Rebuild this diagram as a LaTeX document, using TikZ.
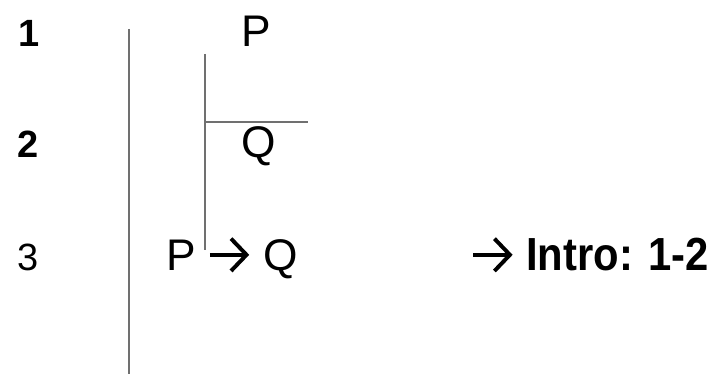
\documentclass[tikz,border=0pt]{standalone}
\usepackage{fontspec}
\setmainfont{Liberation Sans}
\newfontfamily\rulefont[FakeStretch=0.9]{Liberation Sans}
\usepackage{tikz}
\usetikzlibrary{arrows.meta,calc}
\definecolor{bargray}{RGB}{112,112,112}
\tikzset{
linenum/.style={anchor=base, inner sep=0pt, font=\fontsize{27}{32}\selectfont},
fmla/.style={anchor=base, inner sep=0pt, font=\fontsize{31.5}{36}\selectfont},
rulelabel/.style={anchor=base west, inner sep=0pt, font=\fontsize{33}{38}\rulefont\bfseries},
proofbar/.style={draw=bargray, line width=1.7pt}
}
% chevron arrow as used in the formulas
\newcommand{\condarrow}{\tikz[baseline=0pt]\draw[line width=2.8pt,-{Straight Barb[length=11pt,width=23pt,line width=2.8pt]}] (0,10.8pt) -- (28pt,10.8pt);}

\begin{document}
\begin{tikzpicture}[x=0.025cm,y=-0.025cm]
\useasboundingbox (0,0) rectangle (708,374);

% line numbers
\node[linenum, font=\fontsize{27}{32}\selectfont\bfseries] (num1) at (29,47) {1};
\node[linenum, font=\fontsize{27}{32}\selectfont\bfseries] (num2) at (28.5,157) {2};
\node[linenum] (num3) at (28,270) {3};

% formulas
\node[fmla] (prem) at (256,47) {P};
\node[fmla] (goal) at (259,157) {Q};
\node[fmla] (concl) at (232,270) {P \condarrow{} Q};
\node[rulelabel] (rule) at (471,270) {\condarrow{} Intro: 1-2};

% main proof bar
\coordinate (maintop) at (129,29);
\coordinate (mainbot) at (129,374);
\draw[proofbar] (maintop) -- (mainbot);

% subproof bar and hypothesis line
\coordinate (subtop) at (205,54);
\coordinate (subbot) at (205,250);
\coordinate (hypleft) at (205,122);
\coordinate (hypright) at (308,122);
\draw[proofbar] (subtop) -- (subbot);
\draw[proofbar] (hypleft) -- (hypright);
\end{tikzpicture}
\end{document}
